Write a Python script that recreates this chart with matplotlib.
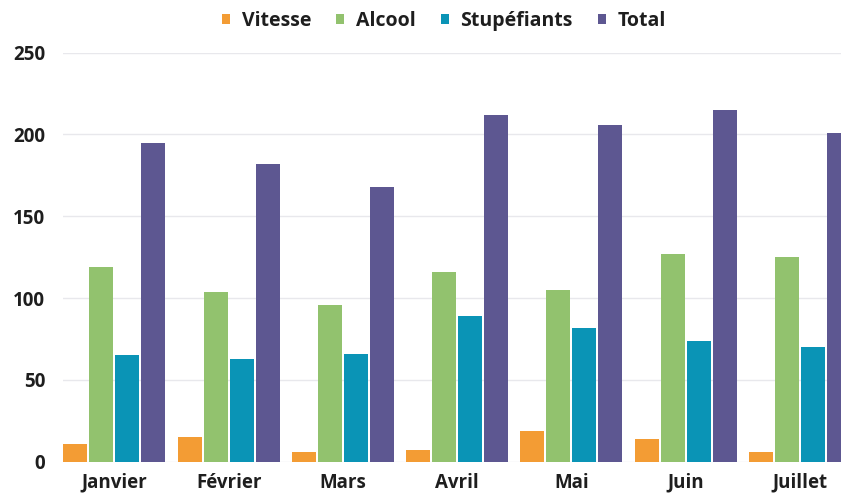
import matplotlib
matplotlib.use("Agg")
import matplotlib.pyplot as plt
import numpy as np

months = ["Janvier", "Février", "Mars", "Avril", "Mai", "Juin", "Juillet"]
vitesse = [11, 15, 6, 7, 19, 14, 6]
alcool = [119, 104, 96, 116, 105, 127, 125]
stupefiants = [65, 63, 66, 89, 82, 74, 70]
total = [195, 182, 168, 212, 206, 215, 201]
series_names = ["Vitesse", "Alcool", "Stupéfiants", "Total"]
colors = ["#F39C34", "#92C26E", "#0A94B6", "#5D5791"]
yticks = [0, 50, 100, 150, 200, 250]

plt.rcParams['font.family'] = ['Open Sans', 'DejaVu Sans']
fig = plt.figure(figsize=(8.41, 4.93), dpi=100)
W, H = 841, 493
left_px, right_px = 62.7, 841
bottom_px, top_px = 461.7, 52.7
ax = fig.add_axes([left_px / W, (H - bottom_px) / H, (right_px - left_px) / W, (bottom_px - top_px) / H])

x = np.arange(len(months))
pitch = 0.2275
width = 0.21
data = [vitesse, alcool, stupefiants, total]
handles = []
for i, (vals, name, c) in enumerate(zip(data, series_names, colors)):
    h = ax.bar(x + (i - 1.5) * pitch, vals, width, color=c, label=name, zorder=3)
    handles.append(h)

spacing = 114.27
c0 = 114.4
ax.set_xlim((left_px - c0) / spacing, (right_px - c0) / spacing)
ax.set_ylim(0, 250)
ax.set_yticks(yticks)
ax.set_xticks(x)
ax.set_xticklabels(months)
ax.grid(axis='y', color='#E8E8EC', linewidth=1, zorder=0)
for s in ax.spines.values():
    s.set_visible(False)
ax.tick_params(axis='both', length=0, labelsize=13.5, labelcolor='#1E1E1E')
ax.tick_params(axis='y', pad=12.5)
ax.tick_params(axis='x', pad=8)
for lab in ax.get_xticklabels() + ax.get_yticklabels():
    lab.set_fontweight('bold')

leg = fig.legend(handles=handles, labels=series_names, loc='center', bbox_to_anchor=(444 / W, 1 - 21 / H),
                 ncol=4, frameon=False, prop={'weight': 'bold', 'size': 14},
                 handlelength=0.4, handleheight=0.4, handletextpad=0.6, columnspacing=1.3)
for t in leg.get_texts():
    t.set_color('#1E1E1E')

fig.savefig("out.png", dpi=100)
